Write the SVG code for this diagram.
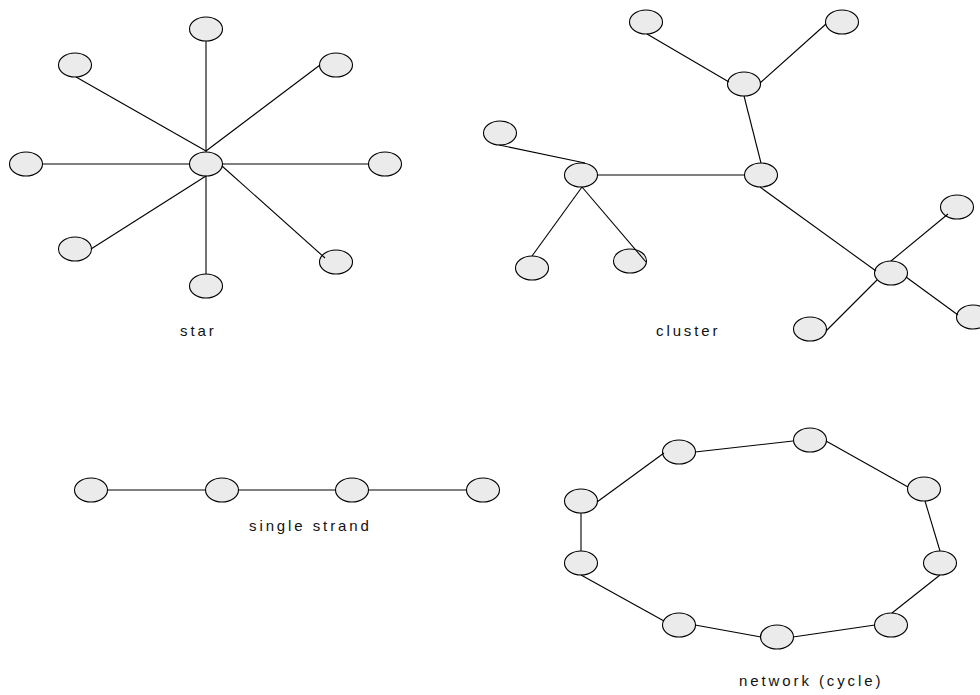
<svg xmlns="http://www.w3.org/2000/svg" width="980" height="695" viewBox="0 0 980 695">
<style>
.n{fill:#ebebeb;stroke:#000;stroke-width:1.1}
.e line{stroke:#000;stroke-width:1.1}
.t{font-family:"Liberation Sans",Arial,sans-serif;font-size:15px;letter-spacing:2.9px;fill:#111}
</style>
<rect width="980" height="695" fill="#fff"/>
<!-- star nodes -->
<g id="star-top"><ellipse class="n" cx="206" cy="29" rx="16.5" ry="12"/></g>
<g id="star-ul"><ellipse class="n" cx="75" cy="65" rx="16.5" ry="12"/></g>
<g id="star-ur"><ellipse class="n" cx="336" cy="65" rx="16.5" ry="12"/></g>
<g id="star-l"><ellipse class="n" cx="26" cy="164" rx="16.5" ry="12"/></g>
<g id="star-c"><ellipse class="n" cx="206" cy="164" rx="16.5" ry="12"/></g>
<g id="star-r"><ellipse class="n" cx="385" cy="164" rx="16.5" ry="12"/></g>
<g id="star-ll"><ellipse class="n" cx="75" cy="249" rx="16.5" ry="12"/></g>
<g id="star-lr"><ellipse class="n" cx="336" cy="262" rx="16.5" ry="12"/></g>
<g id="star-b"><ellipse class="n" cx="206" cy="286" rx="16.5" ry="12"/></g>
<!-- cluster nodes -->
<g id="cl-tl"><ellipse class="n" cx="646" cy="22" rx="16.5" ry="12"/></g>
<g id="cl-tr"><ellipse class="n" cx="842" cy="22" rx="16.5" ry="12"/></g>
<g id="cl-hubtop"><ellipse class="n" cx="744" cy="84" rx="16.5" ry="12"/></g>
<g id="cl-leftleaf"><ellipse class="n" cx="500" cy="133" rx="16.5" ry="12"/></g>
<g id="cl-lefthub"><ellipse class="n" cx="581" cy="175" rx="16.5" ry="12"/></g>
<g id="cl-center"><ellipse class="n" cx="761" cy="175" rx="16.5" ry="12"/></g>
<g id="cl-bl"><ellipse class="n" cx="532" cy="268" rx="16.5" ry="12"/></g>
<g id="cl-bm"><ellipse class="n" cx="630" cy="261" rx="16.5" ry="12"/></g>
<g id="cl-righthub"><ellipse class="n" cx="891" cy="273" rx="16.5" ry="12"/></g>
<g id="cl-rur"><ellipse class="n" cx="957" cy="207" rx="16.5" ry="12"/></g>
<g id="cl-rlr"><ellipse class="n" cx="973" cy="317" rx="16.5" ry="12"/></g>
<g id="cl-rb"><ellipse class="n" cx="810" cy="329" rx="16.5" ry="12"/></g>
<!-- strand nodes -->
<g id="s1"><ellipse class="n" cx="91" cy="490" rx="16.5" ry="12"/></g>
<g id="s2"><ellipse class="n" cx="222" cy="490" rx="16.5" ry="12"/></g>
<g id="s3"><ellipse class="n" cx="352" cy="490" rx="16.5" ry="12"/></g>
<g id="s4"><ellipse class="n" cx="483" cy="490" rx="16.5" ry="12"/></g>
<!-- cycle nodes -->
<g id="c1"><ellipse class="n" cx="679" cy="452" rx="16.5" ry="12"/></g>
<g id="c2"><ellipse class="n" cx="810" cy="440" rx="16.5" ry="12"/></g>
<g id="c3"><ellipse class="n" cx="924" cy="489" rx="16.5" ry="12"/></g>
<g id="c4"><ellipse class="n" cx="940" cy="563" rx="16.5" ry="12"/></g>
<g id="c5"><ellipse class="n" cx="891" cy="625" rx="16.5" ry="12"/></g>
<g id="c6"><ellipse class="n" cx="777" cy="637" rx="16.5" ry="12"/></g>
<g id="c7"><ellipse class="n" cx="679" cy="625" rx="16.5" ry="12"/></g>
<g id="c8"><ellipse class="n" cx="581" cy="563" rx="16.5" ry="12"/></g>
<g id="c9"><ellipse class="n" cx="581" cy="501" rx="16.5" ry="12"/></g>
<!-- connectors -->
<g id="connectors" class="e">
<line x1="206" y1="41" x2="206" y2="152"/>
<line x1="76" y1="77" x2="206" y2="151"/>
<line x1="320" y1="65" x2="206" y2="151"/>
<line x1="42.5" y1="164" x2="189.5" y2="164"/>
<line x1="222.5" y1="164" x2="368.5" y2="164"/>
<line x1="206" y1="176" x2="91" y2="249"/>
<line x1="222" y1="166" x2="325" y2="258"/>
<line x1="206" y1="176" x2="206" y2="274"/>
<line x1="647" y1="34" x2="729" y2="82"/>
<line x1="826" y1="24" x2="760" y2="83"/>
<line x1="744" y1="96" x2="761" y2="163"/>
<line x1="499" y1="145" x2="585" y2="163"/>
<line x1="597.5" y1="175" x2="744.5" y2="175"/>
<line x1="582" y1="187" x2="532" y2="256"/>
<line x1="582" y1="187" x2="646" y2="262"/>
<line x1="760" y1="187" x2="876" y2="271"/>
<line x1="891" y1="261" x2="948" y2="214"/>
<line x1="906" y1="277" x2="958" y2="315"/>
<line x1="877" y1="280" x2="826" y2="331"/>
<line x1="107.5" y1="490" x2="205.5" y2="490"/>
<line x1="238.5" y1="490" x2="335.5" y2="490"/>
<line x1="368.5" y1="490" x2="466.5" y2="490"/>
<line x1="597" y1="502" x2="664" y2="453"/>
<line x1="695" y1="452" x2="793" y2="441"/>
<line x1="826" y1="441" x2="908" y2="487"/>
<line x1="925" y1="501" x2="940" y2="551"/>
<line x1="940" y1="575" x2="892" y2="613"/>
<line x1="875" y1="625" x2="793" y2="637"/>
<line x1="761" y1="637" x2="695" y2="625"/>
<line x1="664" y1="621" x2="581" y2="575"/>
<line x1="581" y1="551" x2="581" y2="513"/>
</g>
<!-- labels -->
<text class="t" x="180" y="336">star</text>
<text class="t" x="656" y="336">cluster</text>
<text class="t" x="249" y="531">single strand</text>
<text class="t" x="739" y="686">network (cycle)</text>
</svg>
